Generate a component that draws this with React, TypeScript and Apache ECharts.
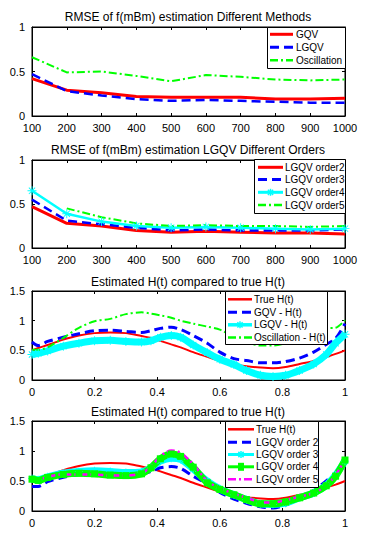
import React, { useEffect, useRef } from 'react';
import * as echarts from 'echarts';

// ---------- data ----------
const N_VALUES = [100, 200, 300, 400, 500, 600, 700, 800, 900, 1000];
const RMSE_GQV = [0.42, 0.29, 0.26, 0.22, 0.21, 0.21, 0.21, 0.19, 0.19, 0.20];
const RMSE_LGQV = [0.47, 0.28, 0.23, 0.19, 0.17, 0.18, 0.17, 0.16, 0.15, 0.15];
const RMSE_OSC = [0.66, 0.49, 0.50, 0.45, 0.39, 0.46, 0.44, 0.41, 0.40, 0.41];

const RMSE_ORD2 = [0.47, 0.28, 0.25, 0.20, 0.18, 0.19, 0.18, 0.17, 0.17, 0.16];
const RMSE_ORD3 = [0.55, 0.31, 0.27, 0.23, 0.20, 0.21, 0.20, 0.20, 0.20, 0.21];
const RMSE_ORD4 = [0.65, 0.39, 0.30, 0.25, 0.23, 0.24, 0.23, 0.22, 0.21, 0.22];
const RMSE_ORD5 = [null, 0.45, 0.35, 0.28, 0.25, 0.26, 0.25, 0.25, 0.24, 0.25];

const T = [0, 0.02, 0.05, 0.1, 0.15, 0.2, 0.25, 0.3, 0.35, 0.38, 0.41, 0.445, 0.475, 0.515, 0.56, 0.6, 0.645, 0.685, 0.73, 0.77, 0.81, 0.855, 0.9, 0.94, 0.97, 1.0];
const H_TRUE = [0.50, 0.54, 0.59, 0.68, 0.75, 0.79, 0.80, 0.79, 0.74, 0.71, 0.66, 0.60, 0.55, 0.47, 0.39, 0.32, 0.26, 0.23, 0.21, 0.20, 0.22, 0.27, 0.32, 0.39, 0.44, 0.50];
const H_GQV = [0.64, 0.58, 0.65, 0.72, 0.78, 0.83, 0.84, 0.82, 0.80, 0.83, 0.87, 0.89, 0.85, 0.75, 0.62, 0.47, 0.36, 0.33, 0.29, 0.29, 0.31, 0.37, 0.47, 0.60, 0.70, 0.95];
const H_LGQV = [0.43, 0.45, 0.49, 0.57, 0.62, 0.66, 0.67, 0.65, 0.64, 0.66, 0.72, 0.75, 0.72, 0.59, 0.46, 0.35, 0.26, 0.16, 0.08, 0.06, 0.08, 0.16, 0.27, 0.43, 0.62, 0.77];
const H_OSC = [0.51, 0.51, 0.55, 0.71, 0.88, 0.99, 1.03, 1.11, 1.14, 1.12, 1.09, 1.05, 1.00, 0.95, 0.90, 0.85, 0.72, 0.64, 0.58, 0.58, 0.62, 0.70, 0.80, 0.87, 0.88, 1.01];

const H_ORD2 = [0.41, 0.41, 0.49, 0.56, 0.61, 0.62, 0.61, 0.59, 0.61, 0.66, 0.72, 0.74, 0.71, 0.58, 0.45, 0.31, 0.20, 0.13, 0.07, 0.05, 0.10, 0.21, 0.34, 0.50, 0.63, 0.84];
const H_ORD3 = [0.54, 0.52, 0.57, 0.63, 0.66, 0.67, 0.66, 0.64, 0.65, 0.72, 0.83, 0.88, 0.86, 0.70, 0.50, 0.37, 0.27, 0.19, 0.12, 0.11, 0.13, 0.22, 0.30, 0.43, 0.60, 0.83];
const H_ORD4 = [0.53, 0.51, 0.56, 0.61, 0.63, 0.62, 0.60, 0.59, 0.62, 0.72, 0.87, 0.95, 0.91, 0.73, 0.47, 0.36, 0.27, 0.19, 0.12, 0.12, 0.15, 0.22, 0.30, 0.42, 0.58, 0.85];
const H_ORD5 = [0.53, 0.52, 0.57, 0.61, 0.61, 0.61, 0.59, 0.59, 0.63, 0.74, 0.91, 1.01, 0.97, 0.78, 0.50, 0.38, 0.29, 0.22, 0.15, 0.14, 0.18, 0.24, 0.30, 0.42, 0.60, 0.86];

const TITLES = [
  'RMSE of f(mBm) estimation Different Methods',
  'RMSE of f(mBm) estimation LGQV Different Orders',
  'Estimated H(t) compared to true H(t)',
  'Estimated H(t) compared to true H(t)',
];
const LEGEND_NAMES = [
  ['GQV', 'LGQV', 'Oscillation'],
  ['LGQV order2', 'LGQV order3', 'LGQV order4', 'LGQV order5'],
  ['True H(t)', 'GQV - H(t)', 'LGQV - H(t)', 'Oscillation - H(t)'],
  ['True H(t)', 'LGQV order 2', 'LGQV order 3', 'LGQV order 4', 'LGQV order 5'],
];

// ---------- styling ----------
const FONT = '"Liberation Sans", Arial, Helvetica, sans-serif';
const RED = '#ff0000';
const BLUE = '#0000ff';
const CYAN = '#00ffff';
const GREEN = '#00ff00';
const MAGENTA = '#ff00ff';
const DASH = [9, 5];
const DASHDOT = [8, 3, 2, 3];
const STAR = 'path://M-1,-10L1,-10L1,10L-1,10Z M-10,-1L10,-1L10,1L-10,1Z M-6.3,-7.7L7.7,6.3L6.3,7.7L-7.7,-6.3Z M-7.7,6.3L6.3,-7.7L7.7,-6.3L-6.3,7.7Z';

const GRIDS = [
  { top: 27, height: 89 },
  { top: 160, height: 88 },
  { top: 291, height: 89 },
  { top: 421, height: 90 },
];
const TITLE_TOPS = [11, 144, 276, 406];
const X_RANGES = [
  { min: 100, max: 1000, interval: 100 },
  { min: 100, max: 1000, interval: 100 },
  { min: 0, max: 1, interval: 0.2 },
  { min: 0, max: 1, interval: 0.2 },
];
const Y_RANGES = [
  { min: 0, max: 1, interval: 0.5 },
  { min: 0, max: 1, interval: 0.5 },
  { min: 0, max: 1.5, interval: 0.5 },
  { min: 0, max: 1.5, interval: 0.5 },
];

// legend boxes (layout)
const LEGEND_BOXES = [
  { x: 267, y: 27, w: 78, h: 41, rows: [34.3, 47.3, 60.3], lx1: 270, lx2: 293, tx: 296 },
  { x: 254, y: 159, w: 91, h: 54, rows: [167.3, 179.5, 192.3, 205], lx1: 258, lx2: 283, tx: 285 },
  { x: 225, y: 291, w: 102, h: 53, rows: [299.3, 312.3, 324.8, 337.5], lx1: 228, lx2: 252, tx: 254 },
  { x: 225, y: 421, w: 93, h: 66, rows: [429.3, 442.3, 454.5, 466.8, 479.3], lx1: 228, lx2: 254, tx: 256 },
];

type Sty = { color: string; width: number; dash: any; marker?: 'star' | 'square' };
const LEGEND_STYLES: Sty[][] = [
  [
    { color: RED, width: 3, dash: null },
    { color: BLUE, width: 3, dash: DASH },
    { color: GREEN, width: 2.5, dash: DASHDOT },
  ],
  [
    { color: RED, width: 3, dash: null },
    { color: BLUE, width: 3, dash: DASH },
    { color: CYAN, width: 3, dash: null, marker: 'star' },
    { color: GREEN, width: 2.5, dash: DASHDOT },
  ],
  [
    { color: RED, width: 2.5, dash: null },
    { color: BLUE, width: 3, dash: DASH },
    { color: CYAN, width: 3.5, dash: null, marker: 'star' },
    { color: GREEN, width: 2.5, dash: DASHDOT },
  ],
  [
    { color: RED, width: 2.5, dash: null },
    { color: BLUE, width: 3, dash: DASH },
    { color: CYAN, width: 3, dash: null, marker: 'star' },
    { color: GREEN, width: 3, dash: null, marker: 'square' },
    { color: MAGENTA, width: 2.5, dash: DASHDOT },
  ],
];

function pairs(xs: number[], ys: (number | null)[]) {
  const out: number[][] = [];
  xs.forEach((x, i) => {
    const y = ys[i];
    if (y !== null && y !== undefined) out.push([x, y]);
  });
  return out;
}

function line(name: string, g: number, xs: number[], ys: (number | null)[], color: string, width: number, dash: any, extra: any = {}) {
  return {
    type: 'line',
    name,
    xAxisIndex: g * 2,
    yAxisIndex: g * 2,
    data: pairs(xs, ys),
    symbol: 'none',
    smooth: false,
    lineStyle: { color, width, type: dash },
    itemStyle: { color },
    ...extra,
  };
}

function legendGraphics() {
  const els: any[] = [];
  LEGEND_BOXES.forEach((b, li) => {
    els.push({
      type: 'rect',
      z: 100,
      shape: { x: b.x + 0.5, y: b.y + 0.5, width: b.w, height: b.h },
      style: { fill: '#fff', stroke: '#000', lineWidth: 1 },
    });
    LEGEND_NAMES[li].forEach((name, i) => {
      const s = LEGEND_STYLES[li][i];
      const y = b.rows[i];
      els.push({
        type: 'line',
        z: 101,
        shape: { x1: b.lx1, y1: y, x2: b.lx2, y2: y },
        style: { stroke: s.color, lineWidth: s.width, lineDash: s.dash || null },
      });
      const cx = (b.lx1 + b.lx2) / 2;
      if (s.marker === 'star') {
        const r = 3.5;
        const segs = [
          [cx - r, y, cx + r, y],
          [cx, y - r, cx, y + r],
          [cx - r * 0.75, y - r * 0.75, cx + r * 0.75, y + r * 0.75],
          [cx - r * 0.75, y + r * 0.75, cx + r * 0.75, y - r * 0.75],
        ];
        segs.forEach((sg) =>
          els.push({
            type: 'line',
            z: 102,
            shape: { x1: sg[0], y1: sg[1], x2: sg[2], y2: sg[3] },
            style: { stroke: s.color, lineWidth: 1.5 },
          })
        );
      } else if (s.marker === 'square') {
        els.push({
          type: 'rect',
          z: 102,
          shape: { x: cx - 3, y: y - 4, width: 6, height: 8 },
          style: { fill: s.color },
        });
      }
      els.push({
        type: 'text',
        z: 103,
        x: b.tx,
        y,
        style: {
          text: name,
          fill: '#000',
          fontSize: 10,
          fontFamily: FONT,
          textVerticalAlign: 'middle',
          verticalAlign: 'middle',
          textAlign: 'left',
        },
      });
    });
  });
  return els;
}

function buildOption() {
  const grid = GRIDS.map((g) => ({
    left: 32,
    width: 313,
    top: g.top,
    height: g.height,
    show: true,
    borderColor: '#000',
    borderWidth: 1,
    backgroundColor: '#fff',
  }));
  const xAxis: any[] = [];
  const yAxis: any[] = [];
  for (let i = 0; i < 4; i++) {
    const common = {
      gridIndex: i,
      type: 'value',
      axisLine: { show: true, onZero: false, lineStyle: { color: '#000', width: 1 } },
      axisTick: { show: true, inside: true, length: 3, lineStyle: { color: '#000' } },
      splitLine: { show: false },
    };
    xAxis.push({
      ...common,
      ...X_RANGES[i],
      position: 'bottom',
      axisLabel: { color: '#000', fontSize: 11, fontFamily: FONT, margin: 6, formatter: (v: number) => String(v) },
    });
    xAxis.push({ ...common, ...X_RANGES[i], position: 'top', axisLabel: { show: false } });
    yAxis.push({
      ...common,
      ...Y_RANGES[i],
      position: 'left',
      axisLabel: { color: '#000', fontSize: 11, fontFamily: FONT, margin: 7, formatter: (v: number) => String(v) },
    });
    yAxis.push({ ...common, ...Y_RANGES[i], position: 'right', axisLabel: { show: false } });
  }

  const title = TITLES.map((t, i) => ({
    text: t,
    left: 188,
    top: TITLE_TOPS[i],
    textAlign: 'center',
    padding: 0,
    textStyle: { fontSize: 12, fontWeight: 'normal', color: '#000', fontFamily: FONT },
  }));

  const series = [
    line('GQV', 0, N_VALUES, RMSE_GQV, RED, 3, 'solid'),
    line('LGQV', 0, N_VALUES, RMSE_LGQV, BLUE, 2.5, DASH),
    line('Oscillation', 0, N_VALUES, RMSE_OSC, GREEN, 2, DASHDOT),

    line('LGQV order2', 1, N_VALUES, RMSE_ORD2, RED, 3, 'solid'),
    line('LGQV order3', 1, N_VALUES, RMSE_ORD3, BLUE, 2.5, DASH),
    line('LGQV order4', 1, N_VALUES, RMSE_ORD4, CYAN, 2.5, 'solid', { symbol: STAR, symbolSize: 9, showSymbol: true }),
    line('LGQV order5', 1, N_VALUES, RMSE_ORD5, GREEN, 2, DASHDOT),

    line('True H(t)', 2, T, H_TRUE, RED, 2, 'solid', { smooth: 0.3 }),
    line('GQV - H(t)', 2, T, H_GQV, BLUE, 3, DASH, { smooth: 0.3 }),
    line('LGQV - H(t)', 2, T, H_LGQV, CYAN, 7, 'solid', { smooth: 0.3, symbol: STAR, symbolSize: 9, showSymbol: true }),
    line('Oscillation - H(t)', 2, T, H_OSC, GREEN, 2, DASHDOT, { smooth: 0.3 }),

    line('True H(t) ', 3, T, H_TRUE, RED, 2, 'solid', { smooth: 0.3 }),
    line('LGQV order 2', 3, T, H_ORD2, BLUE, 3, DASH, { smooth: 0.3 }),
    line('LGQV order 3', 3, T, H_ORD3, CYAN, 7, 'solid', { smooth: 0.3, symbol: STAR, symbolSize: 8, showSymbol: true }),
    line('LGQV order 4', 3, T, H_ORD4, GREEN, 7, 'solid', { smooth: 0.3, symbol: 'rect', symbolSize: 7, showSymbol: true }),
    line('LGQV order 5', 3, T, H_ORD5, MAGENTA, 2.5, DASHDOT, { smooth: 0.3 }),
  ];

  return { animation: false, backgroundColor: '#fff', title, grid, xAxis, yAxis, series, graphic: legendGraphics() };
}

export default function App() {
  const ref = useRef<HTMLDivElement>(null);
  useEffect(() => {
    const chart = echarts.init(ref.current!, null, { renderer: 'svg' });
    chart.setOption(buildOption() as any);
    return () => chart.dispose();
  }, []);
  return <div ref={ref} style={{ position: 'absolute', left: 0, top: 0, width: 365, height: 537 }} />;
}
